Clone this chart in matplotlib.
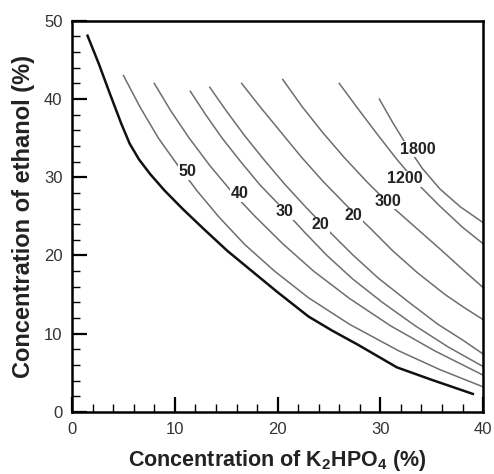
import numpy as np
import matplotlib
matplotlib.use('Agg')
import matplotlib.pyplot as plt
from matplotlib.ticker import MultipleLocator

plt.rcParams['font.family'] = ['Liberation Sans', 'DejaVu Sans']
plt.rcParams['mathtext.fontset'] = 'custom'
plt.rcParams['mathtext.rm'] = 'Liberation Sans:bold'
plt.rcParams['mathtext.bf'] = 'Liberation Sans:bold'

# binodal curve (thick line)
binodal_x = [1.5, 2.6, 3.7, 4.8, 5.6, 6.5, 7.6, 9.0, 10.8, 12.8, 15.1, 17.5,
             20.0, 23.0, 25.3, 27.8, 31.6, 35.0, 39.0]
binodal_y = [48.1, 44.5, 40.6, 36.8, 34.3, 32.3, 30.4, 28.3, 25.9, 23.4, 20.6, 18.0,
             15.3, 12.2, 10.4, 8.6, 5.7, 4.1, 2.3]

# iso-lines (thin)
c1_x = [5.0, 6.6, 8.4, 10.3, 12.2, 14.3, 16.8, 19.7, 23.0, 27.0, 31.8, 35.8, 40.0]
c1_y = [43.0, 39.0, 35.0, 31.5, 28.2, 24.9, 21.4, 18.0, 14.6, 11.2, 7.8, 5.4, 3.2]
c2_x = [8.0, 9.6, 11.4, 13.4, 15.5, 17.8, 20.5, 23.5, 27.0, 31.0, 35.3, 40.0]
c2_y = [42.0, 38.5, 35.0, 31.5, 28.2, 25.0, 21.5, 18.0, 14.5, 11.0, 7.8, 4.7]
c3_x = [11.5, 13.0, 14.6, 16.4, 18.3, 20.5, 22.6, 24.8, 27.3, 30.2, 33.4, 36.6, 40.0]
c3_y = [41.0, 38.0, 35.0, 32.0, 29.0, 26.0, 23.0, 20.0, 17.0, 14.0, 11.0, 8.3, 5.8]
c4_x = [13.4, 15.0, 16.8, 18.7, 20.7, 22.8, 25.0, 27.3, 29.8, 32.7, 35.6, 38.0, 40.0]
c4_y = [41.5, 38.5, 35.3, 32.2, 29.1, 26.1, 23.1, 20.1, 17.1, 14.1, 11.2, 9.2, 7.4]
c5_x = [16.5, 18.3, 20.3, 22.3, 24.4, 26.7, 29.0, 31.2, 33.6, 36.3, 38.2, 40.0]
c5_y = [42.0, 39.0, 35.8, 32.6, 29.5, 26.4, 23.5, 20.6, 17.8, 15.0, 13.3, 11.8]
c6_x = [20.5, 22.4, 24.4, 26.5, 28.7, 31.0, 33.5, 36.0, 38.1, 40.0]
c6_y = [42.5, 39.0, 35.7, 32.5, 29.4, 26.4, 23.5, 20.6, 18.1, 15.9]
c7_x = [26.0, 27.8, 29.7, 31.6, 33.6, 35.8, 38.0, 40.0]
c7_y = [42.0, 38.8, 35.5, 32.3, 29.2, 26.3, 23.6, 21.5]
c8_x = [29.9, 31.2, 32.6, 34.1, 35.8, 37.8, 40.0]
c8_y = [40.0, 37.0, 34.0, 31.1, 28.5, 26.2, 24.2]

curves_x = [c1_x, c2_x, c3_x, c4_x, c5_x, c6_x, c7_x, c8_x]
curves_y = [c1_y, c2_y, c3_y, c4_y, c5_y, c6_y, c7_y, c8_y]

label_text = ['50', '40', '30', '20', '20', '300', '1200', '1800']
label_x = [11.2, 16.3, 20.7, 24.2, 27.4, 30.7, 32.4, 33.6]
label_y = [30.7, 27.9, 25.6, 23.9, 25.1, 26.9, 29.8, 33.6]

fig = plt.figure(figsize=(4.94, 4.74), dpi=100)
ax = fig.add_axes([0.146, 0.131, 0.832, 0.825])

for xs, ys in zip(curves_x, curves_y):
    ax.plot(xs, ys, color='#6e6e6e', lw=1.1, zorder=2)

ax.plot(binodal_x, binodal_y, color='#111111', lw=1.8, zorder=3)

for t, x, y in zip(label_text, label_x, label_y):
    ax.text(x, y, t, fontsize=11.5, fontweight='bold', color='#222222',
            ha='center', va='center', zorder=4,
            bbox=dict(facecolor='white', edgecolor='none', pad=0.2))

ax.set_xlim(0, 40)
ax.set_ylim(0, 50)
ax.xaxis.set_major_locator(MultipleLocator(10))
ax.xaxis.set_minor_locator(MultipleLocator(2))
ax.yaxis.set_major_locator(MultipleLocator(10))
ax.yaxis.set_minor_locator(MultipleLocator(2))
ax.tick_params(which='both', direction='in', top=False, right=False,
               labelsize=12, labelcolor='#333333')
ax.tick_params(which='major', length=11, width=1.6, pad=7)
ax.tick_params(which='minor', length=6, width=1.0)
for s in ax.spines.values():
    s.set_linewidth(1.8)

ax.set_xlabel(r'Concentration of K$_\mathbf{2}$HPO$_\mathbf{4}$ (%)',
              fontsize=15.5, fontweight='bold', color='#222222', labelpad=8)
ax.set_ylabel('Concentration of ethanol (%)', fontsize=17,
              fontweight='bold', color='#222222', labelpad=6)

fig.savefig('out.png', dpi=100)
